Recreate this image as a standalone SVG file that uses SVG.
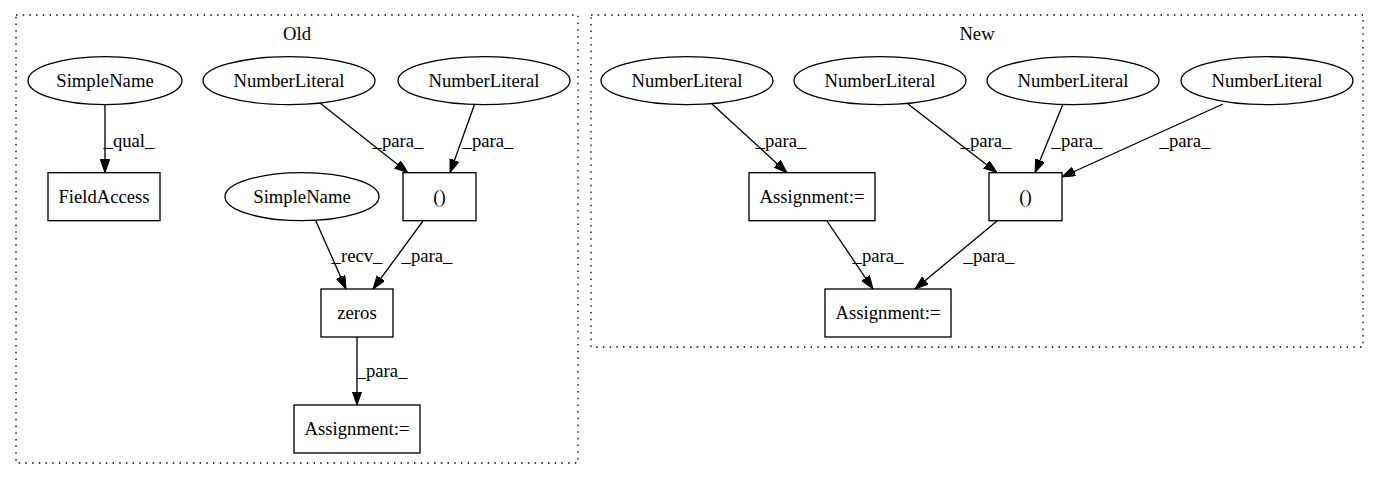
<svg xmlns="http://www.w3.org/2000/svg" width="1379" height="480" viewBox="0 0 1379 480">
<style>
text{font-family:"Liberation Serif","Times New Roman",serif;font-size:18.67px;fill:#000;text-anchor:middle}
.cl{fill:none;stroke:#000;stroke-width:1.33;stroke-dasharray:1.5,5.2}
.n{fill:#fff;stroke:#000;stroke-width:1.33}
.e{fill:none;stroke:#000;stroke-width:1.33;marker-end:url(#ah)}
</style>
<defs>
<marker id="ah" markerUnits="userSpaceOnUse" markerWidth="14" markerHeight="10" refX="13.3" refY="4.67" orient="auto" viewBox="0 0 14 10">
<path d="M0,0 L13.3,4.67 L0,9.33 Z" fill="#000" stroke="#000" stroke-width="1"/>
</marker>
</defs>
<rect width="1379" height="480" fill="#fff"/>
<g id="cluster_old">
<rect class="cl" x="16" y="15" width="562" height="448"/>
<text x="297" y="40">Old</text>
</g>
<g id="cluster_new">
<rect class="cl" x="591" y="15" width="772" height="332"/>
<text x="977" y="40">New</text>
</g>
<g id="edges">
<line class="e" x1="105" y1="104.7" x2="105" y2="172.7"/>
<text x="129" y="147">_qual_</text>
<line class="e" x1="320" y1="103" x2="408" y2="172.7"/>
<text x="398" y="147">_para_</text>
<line class="e" x1="475" y1="103" x2="450" y2="172.7"/>
<text x="488" y="147">_para_</text>
<line class="e" x1="315" y1="219" x2="346" y2="289"/>
<text x="357" y="262">_recv_</text>
<line class="e" x1="423" y1="221" x2="373" y2="289"/>
<text x="427" y="262">_para_</text>
<line class="e" x1="357" y1="337" x2="357" y2="405"/>
<text x="382" y="377">_para_</text>
<line class="e" x1="712" y1="104" x2="787" y2="172.7"/>
<text x="781" y="147">_para_</text>
<line class="e" x1="908" y1="104" x2="997" y2="172.7"/>
<text x="986" y="147">_para_</text>
<line class="e" x1="1063" y1="104" x2="1035" y2="172.7"/>
<text x="1077" y="147">_para_</text>
<line class="e" x1="1223" y1="104" x2="1062" y2="177"/>
<text x="1185" y="147">_para_</text>
<line class="e" x1="827" y1="221" x2="873" y2="289"/>
<text x="878" y="262">_para_</text>
<line class="e" x1="997" y1="221" x2="915" y2="289"/>
<text x="989" y="262">_para_</text>
</g>
<g id="old_simplename1"><ellipse class="n" cx="105" cy="80.7" rx="77" ry="24"/><text x="105" y="87">SimpleName</text></g>
<g id="old_numlit1"><ellipse class="n" cx="289" cy="80.7" rx="86" ry="24"/><text x="289" y="87">NumberLiteral</text></g>
<g id="old_numlit2"><ellipse class="n" cx="484" cy="80.7" rx="86" ry="24"/><text x="484" y="87">NumberLiteral</text></g>
<g id="old_fieldaccess"><rect class="n" x="48" y="172.7" width="112" height="48"/><text x="104" y="203">FieldAccess</text></g>
<g id="old_simplename2"><ellipse class="n" cx="302" cy="196.7" rx="77" ry="24"/><text x="302" y="203">SimpleName</text></g>
<g id="old_paren"><rect class="n" x="403" y="172.7" width="73" height="48"/><text x="439.5" y="203">()</text></g>
<g id="old_zeros"><rect class="n" x="321" y="289" width="72" height="48"/><text x="357" y="319">zeros</text></g>
<g id="old_assign"><rect class="n" x="294" y="405" width="126" height="48"/><text x="357" y="435">Assignment:=</text></g>
<g id="new_numlit1"><ellipse class="n" cx="687" cy="80.7" rx="86" ry="24"/><text x="687" y="87">NumberLiteral</text></g>
<g id="new_numlit2"><ellipse class="n" cx="880" cy="80.7" rx="86" ry="24"/><text x="880" y="87">NumberLiteral</text></g>
<g id="new_numlit3"><ellipse class="n" cx="1073" cy="80.7" rx="86" ry="24"/><text x="1073" y="87">NumberLiteral</text></g>
<g id="new_numlit4"><ellipse class="n" cx="1267" cy="80.7" rx="86" ry="24"/><text x="1267" y="87">NumberLiteral</text></g>
<g id="new_assign1"><rect class="n" x="749" y="172.7" width="126" height="48"/><text x="812" y="203">Assignment:=</text></g>
<g id="new_paren"><rect class="n" x="989" y="172.7" width="73" height="48"/><text x="1025.5" y="203">()</text></g>
<g id="new_assign2"><rect class="n" x="825" y="289" width="126" height="48"/><text x="888" y="319">Assignment:=</text></g>
</svg>
